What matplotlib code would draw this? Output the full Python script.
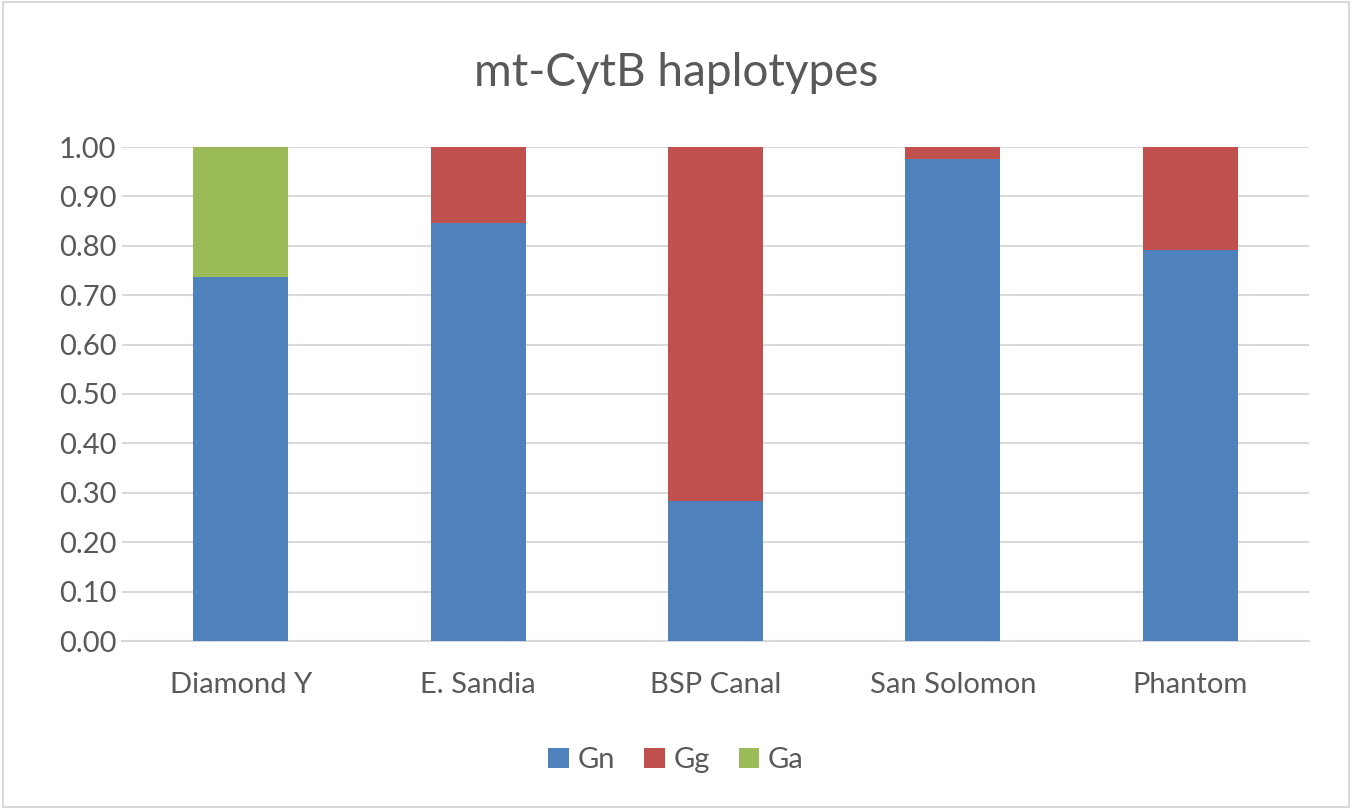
import matplotlib.pyplot as plt
import numpy as np

plt.rcParams['font.family'] = ['Lato', 'DejaVu Sans']

sites = ["Diamond Y", "E. Sandia", "BSP Canal", "San Solomon", "Phantom"]
gn = np.array([0.737, 0.846, 0.284, 0.975, 0.791])
gg = np.array([0.0, 0.154, 0.716, 0.025, 0.209])
ga = np.array([0.263, 0.0, 0.0, 0.0, 0.0])

grey = "#595959"
fig = plt.figure(figsize=(13.52, 8.09), dpi=100)
ax = fig.add_axes([122/1352, 1 - 641/809, (1309-122)/1352, (641-147)/809])

x = np.arange(len(sites))
w = 0.4
ax.bar(x, gn, w, color="#4F81BD", label="Gn", zorder=3)
ax.bar(x, gg, w, bottom=gn, color="#C0504D", label="Gg", zorder=3)
ax.bar(x, ga, w, bottom=gn + gg, color="#9BBB59", label="Ga", zorder=3)

ax.set_xlim(-0.5, len(sites) - 0.5)
ax.set_ylim(0, 1.0)
ax.set_yticks(np.arange(0, 1.01, 0.1))
ax.set_yticklabels([f"{v:.2f}" for v in np.arange(0, 1.01, 0.1)])
ax.set_xticks(x)
ax.set_xticklabels(sites)
ax.grid(axis="y", color="#d9d9d9", linewidth=1.5, zorder=0)
for s in ["top", "right", "left"]:
    ax.spines[s].set_visible(False)
ax.spines["bottom"].set_color("#d9d9d9")
ax.spines["bottom"].set_linewidth(1.5)
ax.tick_params(length=0, labelsize=21, colors=grey)
ax.tick_params(axis="y", pad=4)
ax.tick_params(axis="x", pad=22)

fig.text(0.5, 1 - 73/809, "mt-CytB haplotypes", ha="center", va="center",
         fontsize=33, color=grey)

fig.legend(loc="center", bbox_to_anchor=(0.5, 1 - 760/809), ncol=3,
           frameon=False, fontsize=21, labelcolor=grey, handlelength=0.7,
           handleheight=0.7, handletextpad=0.3, columnspacing=1.0)

fig.patches.append(plt.Rectangle((0.002, 0.002), 0.996, 0.996, transform=fig.transFigure,
                                 fill=False, edgecolor="#d9d9d9", linewidth=1.5))

fig.savefig("out.png", dpi=100)
